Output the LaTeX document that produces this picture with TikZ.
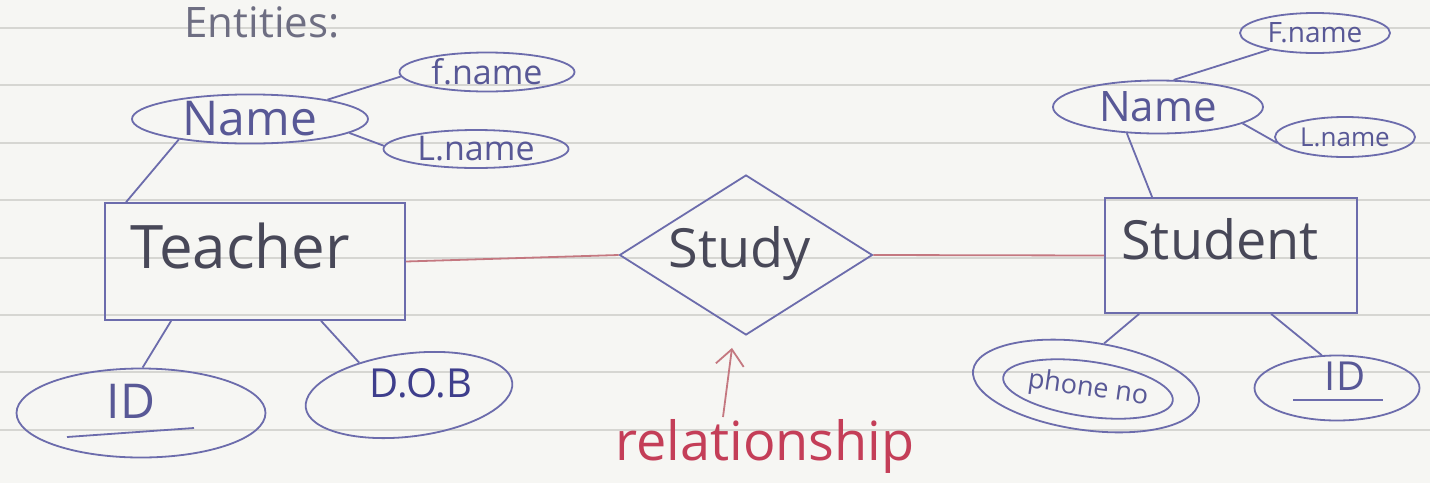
\documentclass[tikz,border=0pt]{standalone}
\usepackage{fontspec}
\setmainfont{Open Sans}
\usetikzlibrary{shapes.geometric,arrows.meta,calc}
\definecolor{paper}{RGB}{246,246,243}
\definecolor{ruled}{RGB}{214,214,210}
\definecolor{pen}{RGB}{108,108,172}
\definecolor{inkdark}{RGB}{72,72,88}
\definecolor{inkblue}{RGB}{88,88,150}
\definecolor{inkdeep}{RGB}{62,62,140}
\definecolor{inkgray}{RGB}{110,110,130}
\definecolor{redline}{RGB}{196,120,128}
\definecolor{redink}{RGB}{196,62,88}
\tikzset{
  attr/.style={ellipse, draw=pen, line width=0.9pt, inner sep=0pt, text=inkblue},
  entity/.style={rectangle, draw=pen, line width=0.9pt, inner sep=0pt, text=inkdark},
  relbox/.style={diamond, draw=pen, line width=0.9pt, inner sep=0pt, text=inkdark},
  conn/.style={draw=pen, line width=0.9pt},
  redconn/.style={draw=redline, line width=0.9pt},
  ruling/.style={draw=ruled, line width=0.8pt},
}
\newcommand{\fs}[1]{\fontsize{#1}{#1}\selectfont}
\begin{document}
\begin{tikzpicture}[x=0.5pt,y=-0.5pt]
\useasboundingbox (0,0) rectangle (1430,483);
\fill[paper] (0,0) rectangle (1430,483);
\foreach \yy in {28,85,143,200,258,315,372,430}
  \draw[ruling] (0,\yy) -- (1430,\yy);

% title
\node[font=\fs{21}, text=inkgray] (title) at (262,22) {Entities:};

% Teacher side
\node[entity, minimum width=150pt, minimum height=58.5pt,
  label={[font=\fs{30}, text=inkdark, xshift=-7.5pt, yshift=8pt]center:Teacher}] (teacher) at (255,261.5) {};
\node[attr, minimum width=118pt, minimum height=24pt, font=\fs{24}] (tname) at (250,119) {Name};
\node[attr, minimum width=87.5pt, minimum height=19.5pt, font=\fs{17}] (tf) at (487,72) {f.name};
\node[attr, minimum width=92.5pt, minimum height=19pt, font=\fs{17}] (tl) at (476,149) {L.name};
\node[attr, minimum width=124.5pt, minimum height=44.5pt,
  label={[font=\fs{24}, text=inkblue, xshift=-5pt, yshift=6pt]center:ID}] (tid) at (141,413) {};
\node[attr, rotate=7, minimum width=104pt, minimum height=41.5pt,
  label={[font=\fs{20}, text=inkdeep, xshift=6pt, yshift=6pt]center:D.O.B}] (dob) at (409,395) {};

% relationship
\node[relbox, minimum width=126.5pt, minimum height=80pt,
  label={[font=\fs{27}, text=inkdark, xshift=-3pt, yshift=1pt]center:Study}] (study) at (746,255) {};

% Student side
\node[entity, minimum width=126pt, minimum height=57.5pt,
  label={[font=\fs{27}, text=inkdark, xshift=-5.5pt, yshift=8pt]center:Student}] (student) at (1231,255.5) {};
\node[attr, minimum width=105pt, minimum height=26.5pt, font=\fs{21}] (sname) at (1158,107) {Name};
\node[attr, minimum width=75pt, minimum height=20pt, font=\fs{14}] (sf) at (1315,33) {F.name};
\node[attr, minimum width=70pt, minimum height=20pt, font=\fs{13}] (sl) at (1345,137) {L.name};
\node[attr, rotate=-8, minimum width=114pt, minimum height=44pt] (phone) at (1086,386) {};
\node[attr, rotate=-8, minimum width=85pt, minimum height=27.5pt, font=\fs{13.5}] (phonein) at (1088,389) {phone no};
\node[attr, minimum width=82.5pt, minimum height=32.5pt,
  label={[font=\fs{20}, text=inkblue, xshift=4pt, yshift=6pt]center:ID}] (sid) at (1337,388) {};

% underlines of keys
\draw[conn] ([xshift=-37pt,yshift=-12pt]tid.center) -- ([xshift=26.5pt,yshift=-7.5pt]tid.center);
\draw[conn] ([xshift=-22pt,yshift=-6pt]sid.center) -- ([xshift=23pt,yshift=-6pt]sid.center);

% connectors
\draw[conn] (tname.196) -- ([xshift=11pt]teacher.north west);
\draw[conn] (tname.14) -- (tf.183);
\draw[conn] (tname.352) -- (tl.178);
\draw[conn] ([xshift=33.5pt]teacher.south west) -- (tid.88);
\draw[conn] ([xshift=108.5pt]teacher.south west) -- (dob.140);
\draw[redconn] (teacher.east) -- (study.west);
\draw[redconn] (study.east) -- (student.west);
\draw[conn] (sname.220) -- ([xshift=24pt]student.north west);
\draw[conn] (sname.60) -- (sf.200);
\draw[conn] (sname.349) -- (sl.185);
\draw[conn] ([xshift=17.5pt]student.south west) -- (phone.75);
\draw[conn] ([xshift=83.5pt]student.south west) -- (sid.115);

% annotation
\node[font=\fs{27}, text=redink] (reltext) at (765,446) {relationship};
\coordinate (arrowtail) at (723,417);
\draw[redconn, -{Straight Barb[length=8pt,width=14pt]}] (arrowtail) -- ([xshift=-7pt,yshift=-6pt]study.south);
\end{tikzpicture}
\end{document}
